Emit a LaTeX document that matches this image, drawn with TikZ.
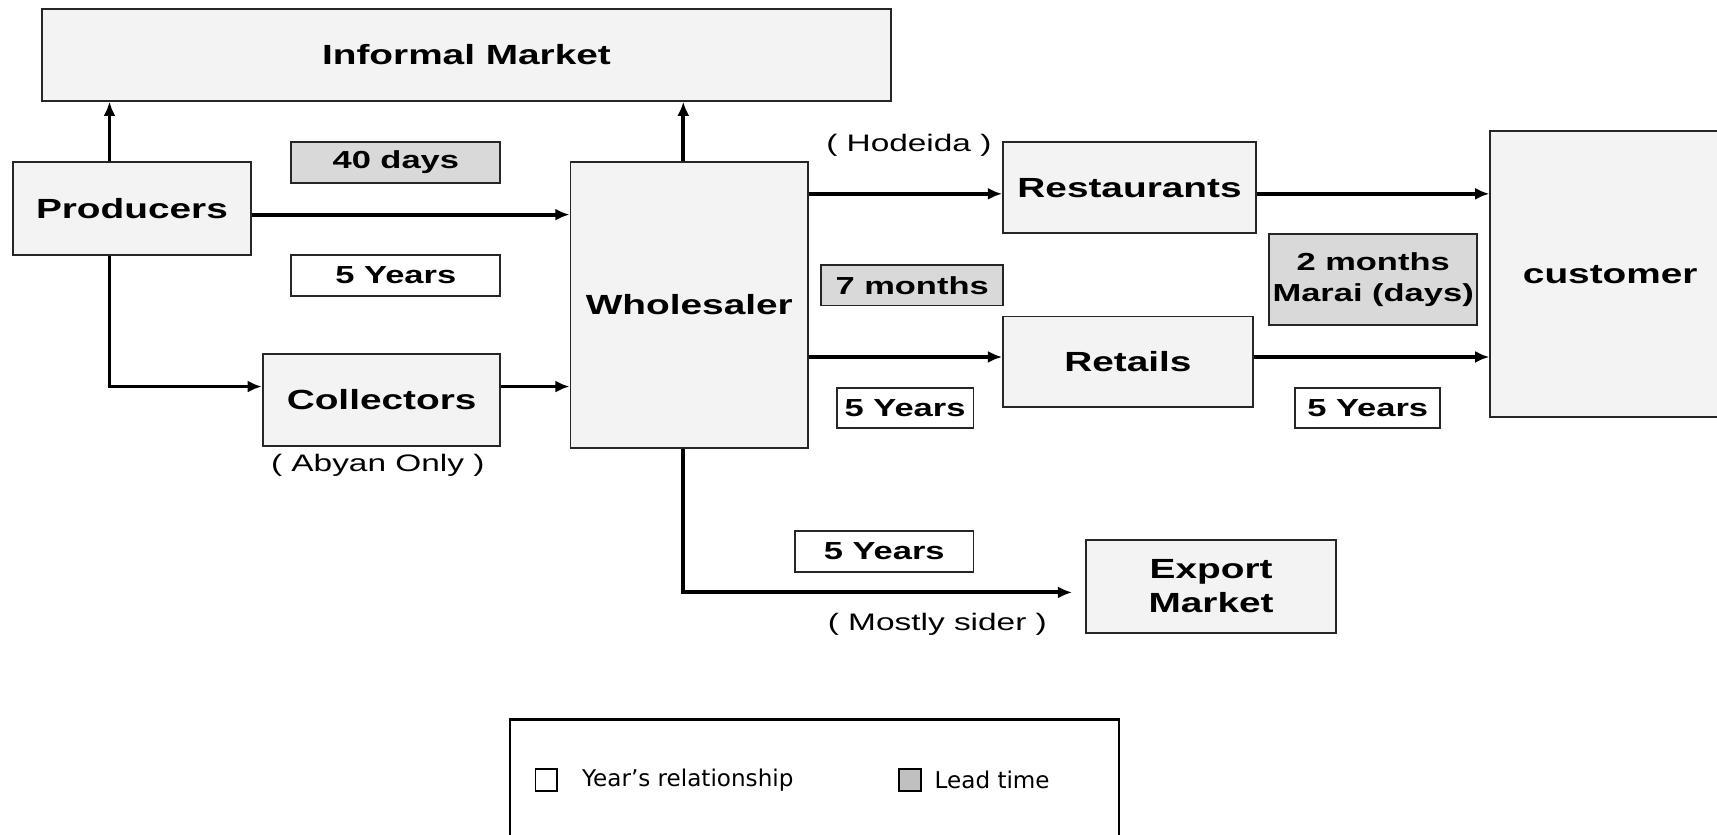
\documentclass[tikz,border=0pt]{standalone}
\usepackage{fontspec}
\setmainfont{Liberation Sans}
\newfontfamily\diafont{Liberation Sans}[FakeStretch=1.4]
\newfontfamily\keyfont{DejaVu Sans}
\usepackage{tikz}
\usetikzlibrary{arrows.meta,positioning}
\definecolor{boxgray}{HTML}{F3F3F3}
\definecolor{timegray}{HTML}{D9D9D9}
\definecolor{keygray}{HTML}{C0C0C0}
\tikzset{
  actor/.style={ draw=black!85, fill=boxgray, line width=0.5pt, inner sep=0pt, align=center,
    font=\diafont\bfseries\fontsize{7.2}{8.8}\selectfont }
}
\tikzset{
  leadtime/.style={ draw=black!85, fill=timegray, line width=0.5pt, inner sep=0pt, align=center,
    minimum height=3.7mm, font=\diafont\bfseries\fontsize{6.4}{7.9}\selectfont }
}
\tikzset{
  yearbox/.style={ leadtime, fill=white }
}
\tikzset{
  place/.style={ inner sep=0pt, font=\diafont\fontsize{6.2}{7.5}\selectfont }
}
\tikzset{
  flow/.style={ -{Latex[length=1.3mm,width=1.1mm]}, line width=1pt }
}
\tikzset{
  keysq/.style={ draw=black, line width=0.5pt, minimum size=2mm, inner sep=0pt }
}

\begin{document}
\begin{tikzpicture}[y=1cm, x=1cm]
      \useasboundingbox (0,0) rectangle (15.68,-7.62);
      % actors
      \node[actor, minimum width=77.6mm, minimum height=8.4mm] (inf) at (4.26,-0.50) {Informal Market};
      \node[actor, minimum width=21.7mm, minimum height=8.5mm] (prod) at (1.205,-1.905) {Producers};
      \node[actor, minimum width=21.7mm, minimum height=8.4mm] (coll) at (3.485,-3.65) {Collectors};
      \node[actor, minimum width=21.7mm, minimum height=26.1mm] (whole) at (6.295,-2.785) {Wholesaler};
      \node[actor, minimum width=23.1mm, minimum height=8.3mm] (rest) at (10.315,-1.715) {Restaurants};
      \node[actor, minimum width=22.8mm, minimum height=8.3mm] (retail) at (10.30,-3.305) {Retails};
      \node[actor, minimum width=21.9mm, minimum height=26.1mm] (cust) at (14.705,-2.505) {customer};
      \node[actor, minimum width=22.8mm, minimum height=8.5mm] (exp) at (11.06,-5.355) {Export\\Market};
      % time labels
      \node[leadtime, minimum width=19.1mm] (ltProd) at (3.615,-1.485) {40 days};
      \node[yearbox, minimum width=19.1mm] (yrProd) at (3.615,-2.515) {5 Years};
      \node[leadtime, minimum width=16.6mm] (ltWhole) at (8.33,-2.605) {7 months};
      \node[yearbox, minimum width=12.5mm] (yrWhole) at (8.265,-3.725) {5 Years};
      \node[leadtime, minimum width=19.0mm, minimum height=8.3mm] (ltRetail) at (12.54,-2.555) {2 months\\Marai (days)};
      \node[yearbox, minimum width=13.2mm] (yrRetail) at (12.49,-3.725) {5 Years};
      \node[yearbox, minimum width=16.3mm] (yrExp) at (8.075,-5.035) {5 Years};
      \node[place] (abyan) at (3.45,-4.25) {( Abyan Only )};
      \node[place] (hodeida) at (8.30,-1.33) {( Hodeida )};
      \node[place] (sider) at (8.56,-5.70) {( Mostly sider )};
      % flows
      \draw[flow] ([xshift=-2.05mm]prod.north) -- ([xshift=-2.05mm]prod.north |- inf.south);
      \draw[flow] ([xshift=-.55mm]whole.north) -- ([xshift=-.55mm]whole.north |- inf.south);
      \draw[flow] ([yshift=-.55mm]prod.east) -- ([yshift=-.55mm]prod.east -| whole.west);
      \draw[flow] ([xshift=-2.05mm]prod.south) |- ([yshift=1.2mm]coll.west);
      \draw[flow] ([yshift=1.2mm]coll.east) -- ([yshift=1.2mm]coll.east -| whole.west);
      \draw[flow] ([yshift=-.55mm]rest.west -| whole.east) -- ([yshift=-.55mm]rest.west);
      \draw[flow] ([yshift=.45mm]retail.west -| whole.east) -- ([yshift=.45mm]retail.west);
      \draw[flow] ([yshift=-.55mm]rest.east) -- ([yshift=-.55mm]rest.east -| cust.west);
      \draw[flow] ([yshift=.45mm]retail.east) -- ([yshift=.45mm]retail.east -| cust.west);
      \draw[flow, shorten >=1.2mm] ([xshift=-.55mm]whole.south) |- ([yshift=-.55mm]exp.west);
      % key
      \node[draw=black, line width=0.6pt, minimum width=55.6mm, minimum height=11.8mm] (key) at (7.44,-7.16) {};
      \node[keysq, fill=white] (keyYear) at (4.99,-7.12) {};
      \node[keysq, fill=keygray] (keyLead) at (8.31,-7.12) {};
      \node[inner sep=0pt, font=\keyfont\fontsize{6}{7}\selectfont, right=2.1mm of keyYear] (keyYearTxt) {Year’s relationship};
      \node[inner sep=0pt, font=\keyfont\fontsize{6}{7}\selectfont, right=1.1mm of keyLead] (keyLeadTxt) {Lead time};
    \end{tikzpicture}
\end{document}
